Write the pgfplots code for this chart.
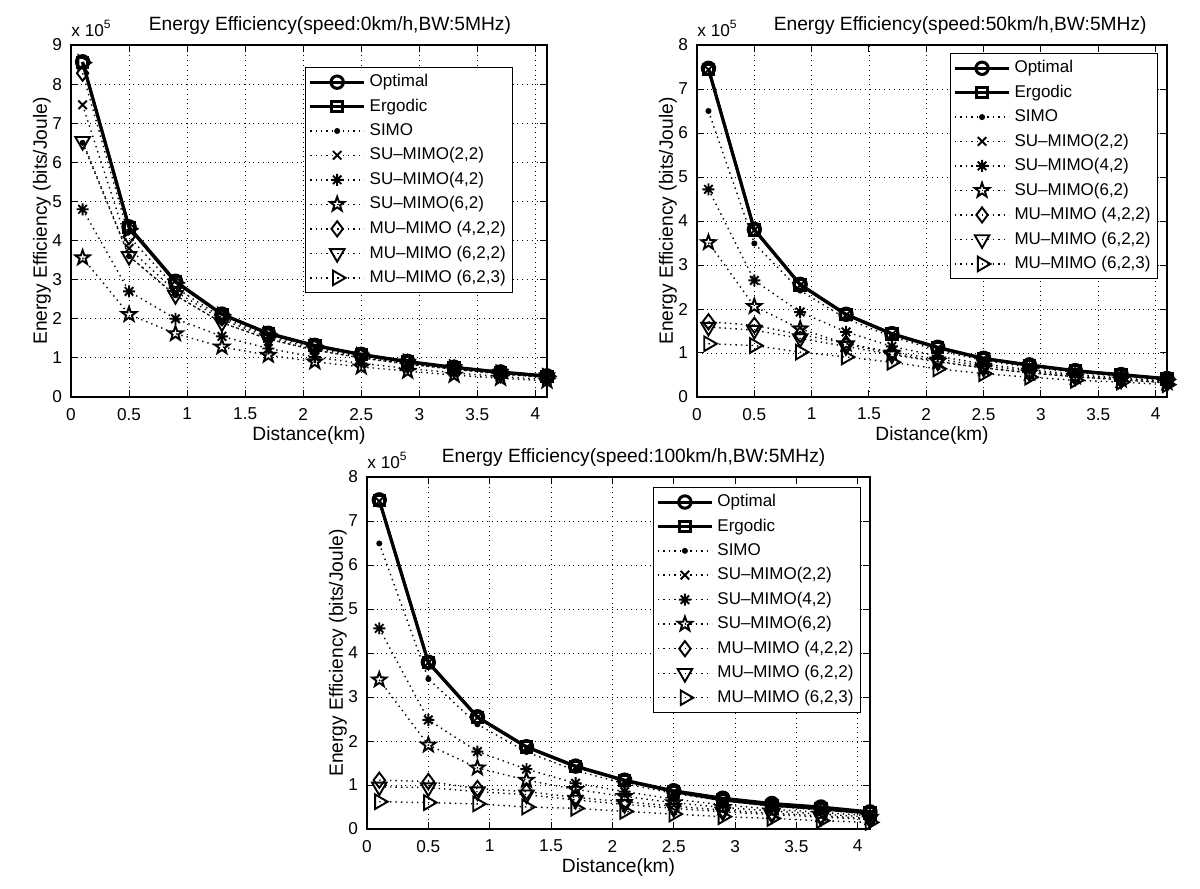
\documentclass[border=0pt]{standalone}
\usepackage{fontspec}
\setmainfont{Liberation Sans}
\usepackage{pgfplots}
\usepackage{pgfplotstable}
\pgfplotsset{compat=1.18}
\usetikzlibrary{plotmarks}

\pgfdeclareplotmark{pentagram}{%
  \pgfpathmoveto{\pgfpointpolar{90}{\pgfplotmarksize}}%
  \pgfpathlineto{\pgfpointpolar{126}{0.4\pgfplotmarksize}}%
  \pgfpathlineto{\pgfpointpolar{162}{\pgfplotmarksize}}%
  \pgfpathlineto{\pgfpointpolar{198}{0.4\pgfplotmarksize}}%
  \pgfpathlineto{\pgfpointpolar{234}{\pgfplotmarksize}}%
  \pgfpathlineto{\pgfpointpolar{270}{0.4\pgfplotmarksize}}%
  \pgfpathlineto{\pgfpointpolar{306}{\pgfplotmarksize}}%
  \pgfpathlineto{\pgfpointpolar{342}{0.4\pgfplotmarksize}}%
  \pgfpathlineto{\pgfpointpolar{18}{\pgfplotmarksize}}%
  \pgfpathlineto{\pgfpointpolar{54}{0.4\pgfplotmarksize}}%
  \pgfpathclose\pgfusepathqstroke}
\pgfdeclareplotmark{mlast}{%
  \pgfpathmoveto{\pgfqpoint{0pt}{\pgfplotmarksize}}\pgfpathlineto{\pgfqpoint{0pt}{-\pgfplotmarksize}}%
  \pgfpathmoveto{\pgfqpoint{\pgfplotmarksize}{0pt}}\pgfpathlineto{\pgfqpoint{-\pgfplotmarksize}{0pt}}%
  \pgfpathmoveto{\pgfpointpolar{45}{\pgfplotmarksize}}\pgfpathlineto{\pgfpointpolar{225}{\pgfplotmarksize}}%
  \pgfpathmoveto{\pgfpointpolar{135}{\pgfplotmarksize}}\pgfpathlineto{\pgfpointpolar{315}{\pgfplotmarksize}}%
  \pgfusepathqstroke}

% x: distance (km); values in units of 1e5 bits/Joule
\pgfplotstableread{
x   opt  erg  simo su22 su42 su62 mu422 mu622 mu623
0.1 8.57 8.55 6.50 7.47 4.80 3.56 8.28 6.54 8.55
0.5 4.35 4.33 3.60 3.80 2.70 2.11 4.10 3.60 4.30
0.9 2.96 2.94 2.60 2.70 2.00 1.62 2.80 2.60 2.92
1.3 2.12 2.11 1.90 1.98 1.55 1.28 2.03 1.90 2.10
1.7 1.63 1.62 1.48 1.53 1.24 1.07 1.57 1.48 1.61
2.1 1.32 1.31 1.20 1.24 1.02 0.90 1.28 1.20 1.30
2.5 1.09 1.08 1.00 1.03 0.86 0.77 1.06 1.00 1.07
2.9 0.91 0.90 0.84 0.86 0.73 0.66 0.88 0.84 0.90
3.3 0.76 0.75 0.71 0.72 0.62 0.56 0.74 0.71 0.75
3.7 0.64 0.63 0.59 0.60 0.52 0.48 0.61 0.59 0.62
4.1 0.54 0.53 0.50 0.51 0.45 0.41 0.52 0.50 0.53
}\tA
\pgfplotstableread{
x   opt  erg  simo su22 su42 su62 mu422 mu622 mu623
0.1 7.47 7.45 6.50 7.44 4.72 3.51 1.71 1.59 1.21
0.5 3.81 3.80 3.49 3.79 2.65 2.06 1.63 1.52 1.17
0.9 2.56 2.55 2.42 2.54 1.93 1.55 1.42 1.33 1.02
1.3 1.88 1.87 1.78 1.86 1.48 1.21 1.22 1.15 0.91
1.7 1.44 1.43 1.37 1.42 1.15 0.98 1.02 0.96 0.79
2.1 1.13 1.12 1.06 1.11 0.93 0.81 0.86 0.80 0.64
2.5 0.88 0.87 0.83 0.87 0.75 0.66 0.71 0.66 0.53
2.9 0.73 0.72 0.68 0.71 0.62 0.55 0.59 0.55 0.45
3.3 0.60 0.59 0.56 0.59 0.51 0.46 0.49 0.46 0.38
3.7 0.51 0.50 0.47 0.50 0.43 0.39 0.42 0.39 0.34
4.1 0.42 0.41 0.39 0.41 0.36 0.33 0.35 0.32 0.28
}\tB
\pgfplotstableread{
x   opt  erg  simo su22 su42 su62 mu422 mu622 mu623
0.1 7.48 7.46 6.49 7.45 4.56 3.39 1.11 0.96 0.62
0.5 3.79 3.78 3.41 3.78 2.48 1.91 1.08 0.94 0.60
0.9 2.55 2.54 2.38 2.53 1.76 1.39 0.92 0.85 0.57
1.3 1.87 1.86 1.75 1.85 1.36 1.11 0.85 0.78 0.50
1.7 1.43 1.42 1.33 1.40 1.04 0.90 0.72 0.66 0.47
2.1 1.11 1.10 1.03 1.08 0.85 0.74 0.62 0.56 0.40
2.5 0.87 0.85 0.81 0.84 0.68 0.60 0.52 0.47 0.34
2.9 0.70 0.66 0.64 0.66 0.55 0.49 0.43 0.39 0.28
3.3 0.58 0.54 0.52 0.54 0.45 0.41 0.36 0.33 0.24
3.7 0.50 0.46 0.43 0.46 0.38 0.34 0.30 0.27 0.19
4.1 0.39 0.36 0.34 0.36 0.30 0.27 0.24 0.22 0.15
}\tC

\newcommand\fs{\fontsize{8.6}{10}\selectfont}
\newcommand\fl{\fontsize{9.6}{11}\selectfont}
\newcommand\fg{\fontsize{8.5}{10}\selectfont}
\pgfplotsset{
  optS/.style={black, line width=1.5pt, mark=o, mark size=3.1pt},
  ergS/.style={black, line width=1.5pt, mark=square, mark size=2.6pt},
  dotS/.style={black, dotted, line width=0.7pt, mark options={solid, line width=0.95pt}},
  simoS/.style={dotS, mark=*, mark size=1pt},
  su22S/.style={dotS, mark=x, mark size=3pt},
  su42S/.style={dotS, mark=mlast, mark size=3pt},
  su62S/.style={dotS, mark=pentagram, mark size=3.8pt},
  mu422S/.style={dotS, mark=diamond, mark size=3.8pt},
  mu622S/.style={dotS, mark=triangle, mark size=4.2pt, mark options={solid, line width=0.95pt, rotate=180}},
  mu623S/.style={dotS, mark=triangle, mark size=4.2pt, mark options={solid, line width=0.95pt, rotate=-90}},
  common/.style={
    scale only axis, height=176pt, clip=false,
    xmin=0, xmax=4.1, ymin=0,
    xtick={0,0.5,1,1.5,2,2.5,3,3.5,4},
    xticklabels={0,0.5,1,1.5,2,2.5,3,3.5,4},
    grid=major, major grid style={black, dotted, line width=0.45pt},
    axis line style={line width=0.6pt},
    tick style={black, line width=0.5pt}, major tick length=3.5pt,
    tick label style={font=\fs},
    /pgf/number format/assume math mode=true,
    xticklabel style={yshift=-2pt},
    yticklabel style={xshift=-1pt},
    xlabel={Distance(km)},
    ylabel={Energy Efficiency (bits/Joule)},
    every axis x label/.style={at={(rel axis cs:0.5,0)}, anchor=base, yshift=-22pt, font=\fl},
    every axis y label/.style={at={(rel axis cs:0,0.5)}, anchor=center, xshift=-14.5pt, rotate=90, font=\fl},
    every axis title/.style={font=\fl, anchor=base, yshift=7.5pt},
    legend style={font=\fg, draw=black, line width=0.5pt, fill=white, inner sep=1.5pt,
      row sep=0.6pt, cells={anchor=west}},
    legend image code/.code={\draw[mark repeat=2, mark phase=2] plot coordinates {(0pt,0pt) (13.5pt,0pt) (27pt,0pt)};},
  },
}
\newcommand\allplots[1]{%
  \addplot[optS] table[x=x,y=opt] {#1};
  \addplot[ergS] table[x=x,y=erg] {#1};
  \addplot[simoS] table[x=x,y=simo] {#1};
  \addplot[su22S] table[x=x,y=su22] {#1};
  \addplot[su42S] table[x=x,y=su42] {#1};
  \addplot[su62S] table[x=x,y=su62] {#1};
  \addplot[mu422S] table[x=x,y=mu422] {#1};
  \addplot[mu622S] table[x=x,y=mu622] {#1};
  \addplot[mu623S] table[x=x,y=mu623] {#1};
  \legend{Optimal, Ergodic, SIMO, {SU--MIMO(2,2)}, {SU--MIMO(4,2)}, {SU--MIMO(6,2)},
    {MU--MIMO (4,2,2)}, {MU--MIMO (6,2,2)}, {MU--MIMO (6,2,3)}}
  \node[font=\fs, anchor=base west, inner sep=0pt, yshift=4.5pt] at (rel axis cs:0,1) {x 10\textsuperscript{5}};
}

\begin{document}
\begin{tikzpicture}
\useasboundingbox (0,0) rectangle (600pt,444.5pt);
% top-left
\begin{axis}[common, at={(35.5pt,246pt)}, anchor=south west, width=238pt,
  ymax=9, ytick={0,1,...,9},
  title={Energy Efficiency(speed:0km/h,BW:5MHz)}, title style={at={(0.544,1)}},
  legend style={at={(0.929,0.9375)}, anchor=north east}]
\allplots{\tA}
\end{axis}
% top-right
\begin{axis}[common, at={(348.5pt,246pt)}, anchor=south west, width=235pt,
  ymax=8, ytick={0,1,...,8},
  title={Energy Efficiency(speed:50km/h,BW:5MHz)}, title style={at={(0.56,1)}},
  legend style={at={(0.981,0.977)}, anchor=north east}]
\allplots{\tB}
\end{axis}
% bottom
\begin{axis}[common, at={(183.5pt,30pt)}, anchor=south west, width=251.5pt,
  ymax=8, ytick={0,1,...,8},
  title={Energy Efficiency(speed:100km/h,BW:5MHz)}, title style={at={(0.53,1)}},
  legend style={at={(0.982,0.972)}, anchor=north east}]
\allplots{\tC}
\end{axis}
\end{tikzpicture}
\end{document}
